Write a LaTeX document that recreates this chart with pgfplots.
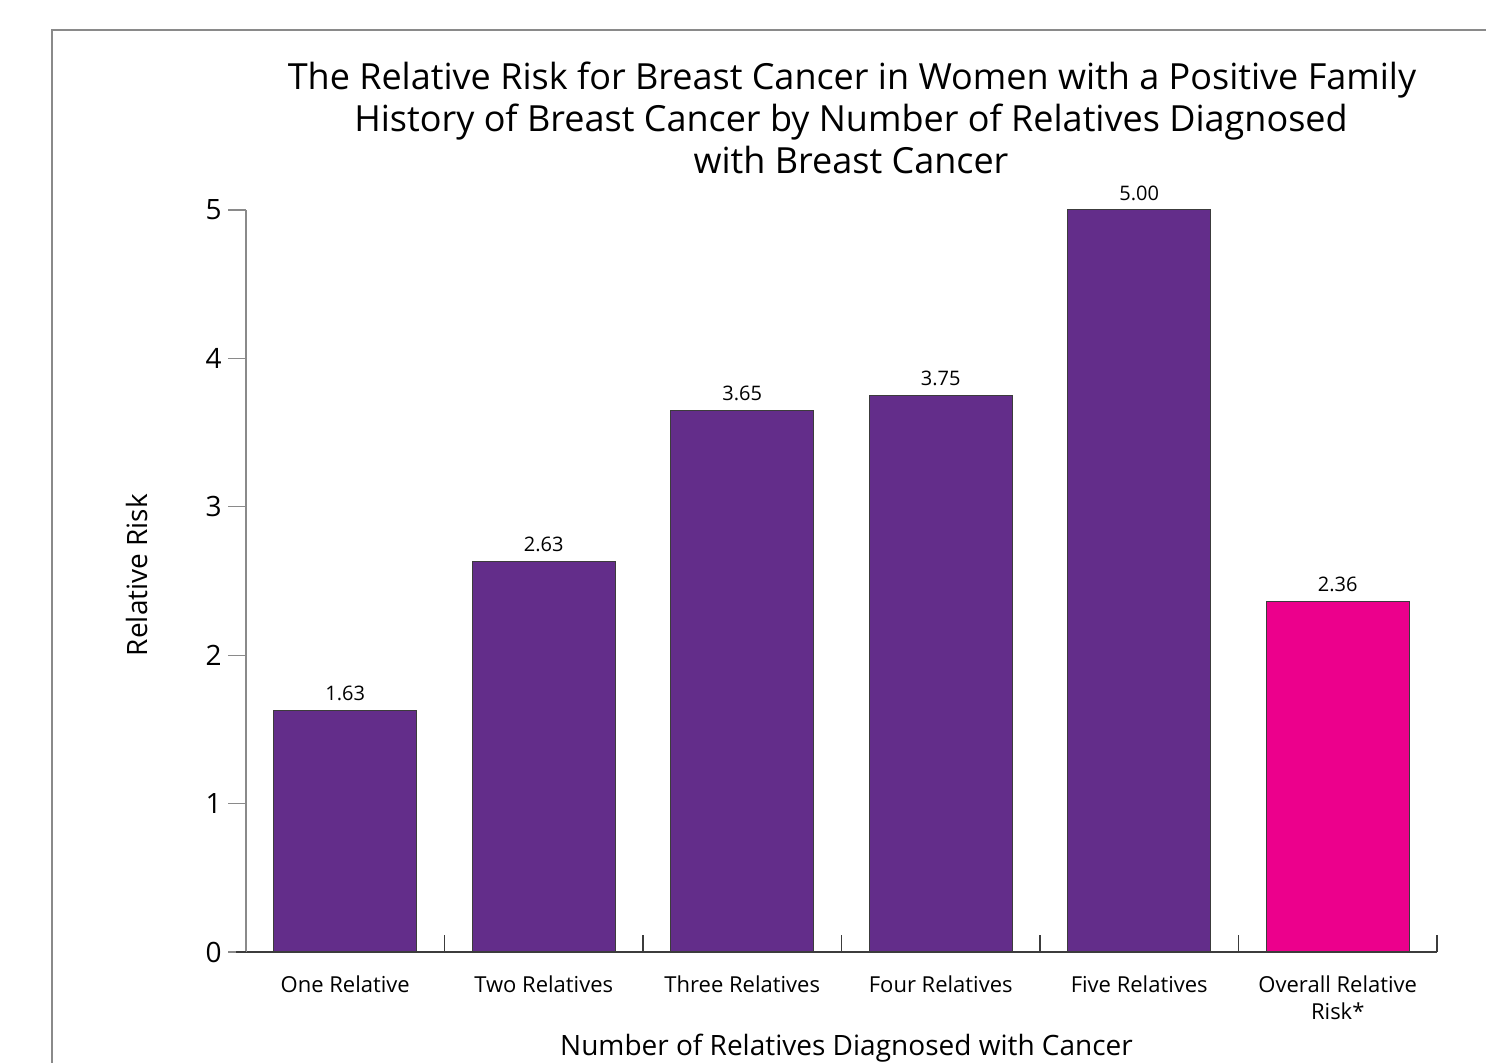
\documentclass[border=0pt]{standalone}
\usepackage{fontspec}
\setmainfont{Open Sans}
\usepackage{pgfplots}
\pgfplotsset{compat=1.18}

\definecolor{barpurple}{HTML}{632D8A}
\definecolor{barpink}{HTML}{EC008C}
\definecolor{framegray}{HTML}{8A8A8A}
\definecolor{edgegray}{HTML}{3C3C3C}

\begin{document}
\begin{tikzpicture}
% page: 1px of the reference = 0.5pt, origin at the axis corner
\useasboundingbox (-123pt,-55.5pt) rectangle (620pt,476pt);
\draw[framegray, line width=0.75pt] (-97pt,-56pt) -- (-97pt,461pt) -- (621pt,461pt);

\begin{axis}[
    at={(0,0)}, anchor=south west,
    scale only axis,
    width=595.5pt, height=371pt,
    xmin=-0.5, xmax=5.5,
    ymin=0, ymax=5,
    axis x line*=bottom,
    axis y line*=left,
    x axis line style={edgegray, line width=0.75pt},
    y axis line style={framegray, line width=0.75pt},
    xtick={0,1,2,3,4,5},
    xticklabels={One Relative, Two Relatives, Three Relatives, Four Relatives, Five Relatives, {Overall Relative\\Risk*}},
    major x tick style={draw=none},
    minor xtick={-0.5,0.5,1.5,2.5,3.5,4.5,5.5},
    % the separators stand up from the axis line
    minor x tick style={edgegray, line width=0.6pt, yshift=8.5pt},
    minor tick length=8.5pt,
    ytick={0,1,2,3,4,5},
    major tick length=9pt,
    major y tick style={framegray, line width=0.6pt},
    tick align=outside,
    /pgf/number format/assume math mode=true,
    xticklabel style={font=\fontsize{11}{13.5}\selectfont, align=center, anchor=north, inner sep=0pt, yshift=-2.5pt},
    yticklabel style={font=\fontsize{14}{16}\selectfont, anchor=east, inner sep=0pt, xshift=-3pt},
    xlabel={Number of Relatives Diagnosed with Cancer},
    ylabel={Relative Risk},
    every axis x label/.style={at={(axis description cs:0.5,0)}, anchor=base, yshift=-51.5pt, xshift=2.5pt, font=\fontsize{14}{16}\selectfont},
    every axis y label/.style={at={(axis description cs:0,0.5)}, rotate=90, anchor=center, yshift=54.5pt, xshift=3pt, font=\fontsize{14}{16}\selectfont},
    ybar,
    bar width=0.72,
    point meta=explicit symbolic,
    nodes near coords,
    every node near coord/.append style={font=\fontsize{10}{12}\selectfont, inner sep=0pt, yshift=4.5pt, text=black},
    clip=false,
]
\addplot[bar shift=0pt, fill=barpurple, draw=edgegray, line width=0.5pt] coordinates {
    (0,1.63) [1.63]
    (1,2.63) [2.63]
    (2,3.65) [3.65]
    (3,3.75) [3.75]
    (4,5.00) [5.00]
};
\addplot[bar shift=0pt, fill=barpink, draw=edgegray, line width=0.5pt] coordinates {
    (5,2.36) [2.36]
};
\end{axis}
\draw[edgegray, line width=0.75pt] (-5pt,0) -- (0,0);

\node[font=\fontsize{18}{21}\selectfont, anchor=base, inner sep=0pt] at (303pt,431pt) {The Relative Risk for Breast Cancer in Women with a Positive Family};
\node[font=\fontsize{18}{21}\selectfont, anchor=base, inner sep=0pt] at (302.5pt,410pt) {History of Breast Cancer by Number of Relatives Diagnosed};
\node[font=\fontsize{18}{21}\selectfont, anchor=base, inner sep=0pt] at (302.5pt,389pt) {with Breast Cancer};
\end{tikzpicture}
\end{document}
